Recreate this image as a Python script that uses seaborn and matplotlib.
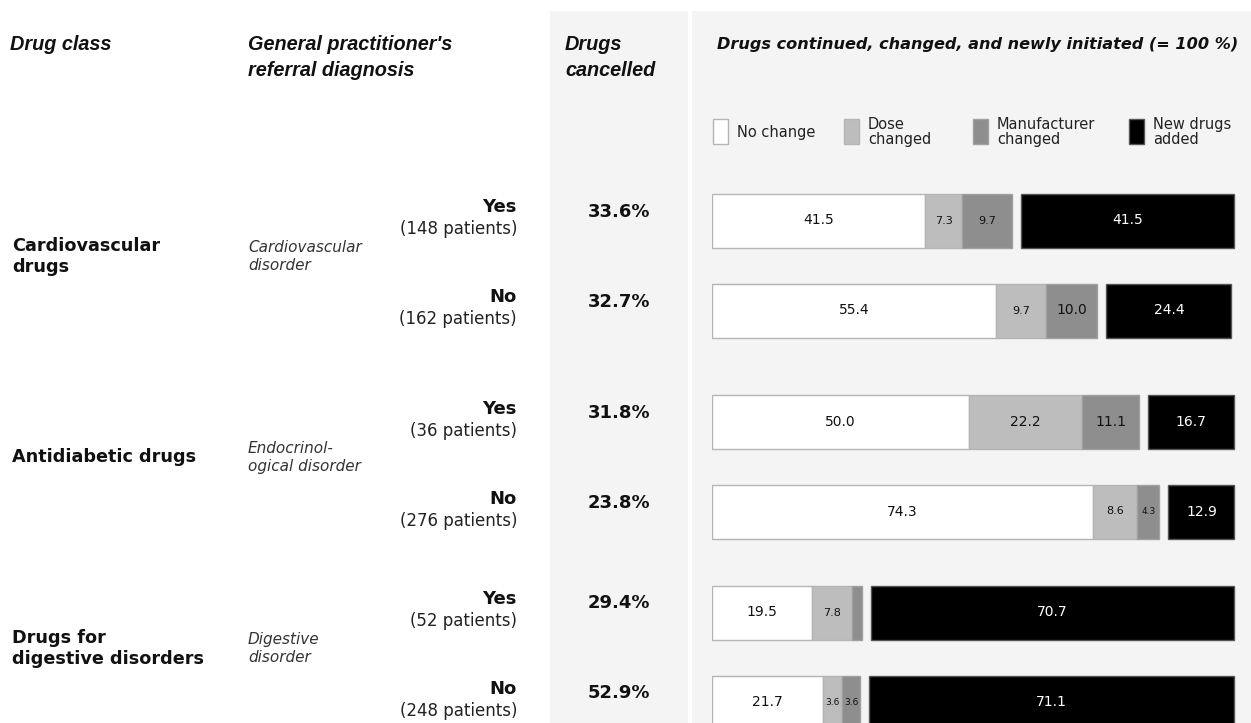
import numpy as np
import pandas as pd
import matplotlib
matplotlib.use("Agg")
import matplotlib.pyplot as plt
from matplotlib.patches import Rectangle
import seaborn as sns


# values
drug_classes = ["Cardiovascular\ndrugs", "Antidiabetic drugs", "Drugs for\ndigestive disorders"]
diagnoses = ["Cardiovascular\ndisorder", "Endocrinol-\nogical disorder", "Digestive\ndisorder"]
referral = ["Yes", "No"]
patients = [148, 162, 36, 276, 52, 248]
cancelled = [33.6, 32.7, 31.8, 23.8, 29.4, 52.9]
no_change = [41.5, 55.4, 50.0, 74.3, 19.5, 21.7]
dose_changed = [7.3, 9.7, 22.2, 8.6, 7.8, 3.6]
manufacturer_changed = [9.7, 10.0, 11.1, 4.3, 2.0, 3.6]
new_drugs = [41.5, 24.4, 16.7, 12.9, 70.7, 71.1]

seg_names = ["No change", "Dose\nchanged", "Manufacturer\nchanged", "New drugs\nadded"]
seg_colors = ["#ffffff", "#bdbdbd", "#8e8e8e", "#000000"]
seg_edges = ["#b4b4b4", "#b4b4b4", "#a0a0a0", "#555555"]
label_colors = ["#111111", "#111111", "#111111", "#ffffff"]

sns.set_theme(style="white")
plt.rcParams["font.family"] = ["DejaVu Sans"]

W, H = 1251, 723


def fx(x):
    return x / W


def fy(y):
    return 1 - y / H


fig = plt.figure(figsize=(12.51, 7.23), dpi=100)
fig.patch.set_facecolor("white")
bg = "#f4f4f4"
fig.patches.append(Rectangle((fx(550), 0), fx(688) - fx(550), fy(11), transform=fig.transFigure,
                             facecolor=bg, edgecolor="none", zorder=-1))
fig.patches.append(Rectangle((fx(692), 0), 1 - fx(692), fy(11), transform=fig.transFigure,
                             facecolor=bg, edgecolor="none", zorder=-1))

ink = "#111111"
head = dict(family="Liberation Sans", fontweight="bold", fontstyle="italic", fontsize=14.3, color=ink, va="center")
fig.text(fx(10), fy(45), "Drug class", **head)
fig.text(fx(248), fy(45), "General practitioner's", **head)
fig.text(fx(248), fy(71), "referral diagnosis", **head)
fig.text(fx(565), fy(45), "Drugs", **head)
fig.text(fx(565), fy(71), "cancelled", **head)
fig.text(fx(717), fy(45), "Drugs continued, changed, and newly initiated (= 100 %)",
         fontweight="bold", fontstyle="italic", fontsize=11.6, color=ink, va="center")

# legend
patch_x = [713, 844, 973, 1129]
for name, col, edge, x0 in zip(seg_names, seg_colors, seg_edges, patch_x):
    fig.patches.append(Rectangle((fx(x0), fy(144)), 15 / W, 25 / H, transform=fig.transFigure,
                                 facecolor=col, edgecolor=edge, lw=1, zorder=1))
    fig.text(fx(x0 + 24), fy(132), name, fontsize=10.5, color="#222222", va="center",
             linespacing=0.95)

# bars, one axes per drug class
group_mid = [265.5, 466.5, 657.5]
row_gap = 90
px_per_unit = 5.13
gap_units = 1.75

for g in range(3):
    mid = group_mid[g]
    sl = slice(2 * g, 2 * g + 2)
    df = pd.DataFrame({
        "referral": referral,
        "no_change": no_change[sl],
        "dose_changed": dose_changed[sl],
        "manufacturer_changed": manufacturer_changed[sl],
        "new_drugs": new_drugs[sl],
    })
    ax = fig.add_axes([fx(712), fy(mid + row_gap), fx(W) - fx(712), 2 * row_gap / H])
    left = np.zeros(2)
    for k, col in enumerate(["no_change", "dose_changed", "manufacturer_changed", "new_drugs"]):
        if col == "new_drugs":
            left = left + gap_units
        sns.barplot(data=df, x=col, y="referral", orient="h", left=left, color=seg_colors[k],
                    edgecolor=seg_edges[k], linewidth=1, width=0.6, saturation=1,
                    errorbar=None, ax=ax)
        vals = df[col].to_numpy()
        labels = [f"{v:.1f}" if v >= 2.5 else "" for v in vals]
        texts = ax.bar_label(ax.containers[-1], labels=labels, label_type="center",
                             color=label_colors[k], fontsize=10)
        for t, v in zip(texts, vals):
            if v < 5:
                t.set_fontsize(6.5)
            elif v < 10:
                t.set_fontsize(8)
        left = left + vals
    ax.set_xlim(0, (W - 712) / px_per_unit)
    ax.set_ylim(1.5, -0.5)
    ax.axis("off")

    # left side text for this group
    fig.text(fx(12), fy(mid - 9), drug_classes[g], fontweight="bold", fontsize=12.7,
             color=ink, va="center", linespacing=1.25)
    fig.text(fx(248), fy(mid - 9), diagnoses[g], fontstyle="italic", fontsize=11,
             color="#333333", va="center", linespacing=1.3)
    for r in range(2):
        i = 2 * g + r
        yc = mid - row_gap / 2 + r * row_gap
        fig.text(fx(517), fy(yc - 13), referral[r], fontweight="bold", fontsize=13,
                 color=ink, ha="right", va="center")
        fig.text(fx(517), fy(yc + 9), f"({patients[i]} patients)", fontsize=12,
                 color="#222222", ha="right", va="center")
        fig.text(fx(619), fy(yc - 9), f"{cancelled[i]:.1f}%", fontweight="bold", fontsize=13,
                 color=ink, ha="center", va="center")

fig.savefig("out.png", dpi=100)
